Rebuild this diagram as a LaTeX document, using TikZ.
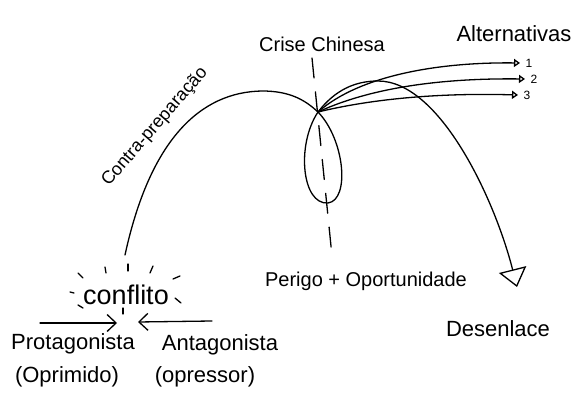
\documentclass[tikz,border=0pt]{standalone}
\usepackage{fontspec}
\setmainfont{Liberation Sans}
\usetikzlibrary{arrows.meta,positioning}

\tikzset{
  traco/.style={line width=1.3pt, line cap=round},
  rotulo/.style={inner sep=0pt, font=\fontsize{20}{24}\selectfont},
  grande/.style={rotulo, font=\fontsize{22}{26}\selectfont},
  numero/.style={inner sep=0pt, font=\fontsize{12}{14}\selectfont},
  ponta/.style={-{Triangle[open,length=6pt,width=8pt]}},
  barba/.style={-{Straight Barb[length=9pt,width=17pt]}},
}

\begin{document}
\begin{tikzpicture}[x=1pt,y=-1pt,traco]
  \useasboundingbox (0,0) rectangle (576,395);

  % pontos da curva
  \coordinate (inicio) at (125,255);
  \coordinate (topo)   at (262,91);
  \coordinate (cruz)   at (318,112);
  \coordinate (fundo)  at (328,203);
  \coordinate (cume)   at (378,81);
  \coordinate (fim)    at (517,287);
  \coordinate (alt1)   at (520,63);
  \coordinate (alt2)   at (525,79);
  \coordinate (alt3)   at (518,95);
  \coordinate (corte-a) at (312,58);
  \coordinate (corte-b) at (332,256);

  % textos
  \node[rotulo,anchor=base] (crise) at (322,52) {Crise Chinesa};
  \node[grande,anchor=base] (alternativas) at (514,42) {Alternativas};
  \node[rotulo,anchor=base,font=\fontsize{27}{30}\selectfont] (conflito) at (126,305) {conflito};
  \node[grande,anchor=base] (protag) at (73,350) {Protagonista};
  \node[grande,anchor=base] (antag) at (220,351) {Antagonista};
  \node[grande,anchor=base] (oprimido) at (67,383) {(Oprimido)};
  \node[grande,anchor=base] (opressor) at (205,383) {(opressor)};
  \node[rotulo,anchor=base] (perigo) at (366,287) {Perigo + Oportunidade};
  \node[grande,anchor=base] (desenlace) at (498,337) {Desenlace};
  \node[rotulo,rotate=49,font=\fontsize{18}{22}\selectfont] (contra) at (155,127) {Contra-preparação};

  % enredo
  \draw (inicio) .. controls (150,140) and (200,92) .. (topo)
    .. controls (290,91) and (305,100) .. (cruz)
    .. controls (345,140) and (350,200) .. (fundo)
    .. controls (302,205) and (296,145) .. (cruz);
  \draw[-{Triangle[open,length=18pt,width=28pt]}] (cruz)
    .. controls (335,90) and (355,81) .. (cume)
    .. controls (440,81) and (495,200) .. (fim);
  \draw[dash pattern=on 20pt off 14pt] (corte-a) -- (corte-b);

  % alternativas
  \draw[ponta] (cruz) .. controls (360,75) and (440,62) .. (alt1);
  \draw[ponta] (cruz) .. controls (370,88) and (440,78) .. (alt2);
  \draw[ponta] (cruz) .. controls (380,97) and (450,93) .. (alt3);
  \node[numero,right=5pt of alt1] (um) {1};
  \node[numero,right=5pt of alt2] (dois) {2};
  \node[numero,right=5pt of alt3] (tres) {3};

  % conflito
  \foreach \xa/\ya/\xb/\yb in {78/273/83/278, 105/267/106/273, 128/264/128/271,
      153/266/150/273, 173/279/180/276, 70/292/74/293, 78/305/83/308,
      175/298/181/303, 123/308/123/314}
    \draw (\xa,\ya) -- (\xb,\yb);
  \coordinate (prot-ini) at (40,323);
  \coordinate (prot-fim) at (117,323);
  \coordinate (ant-ini) at (212,321);
  \coordinate (ant-fim) at (138,322);
  \draw[barba] (prot-ini) -- (prot-fim);
  \draw[barba] (ant-ini) -- (ant-fim);
\end{tikzpicture}
\end{document}
